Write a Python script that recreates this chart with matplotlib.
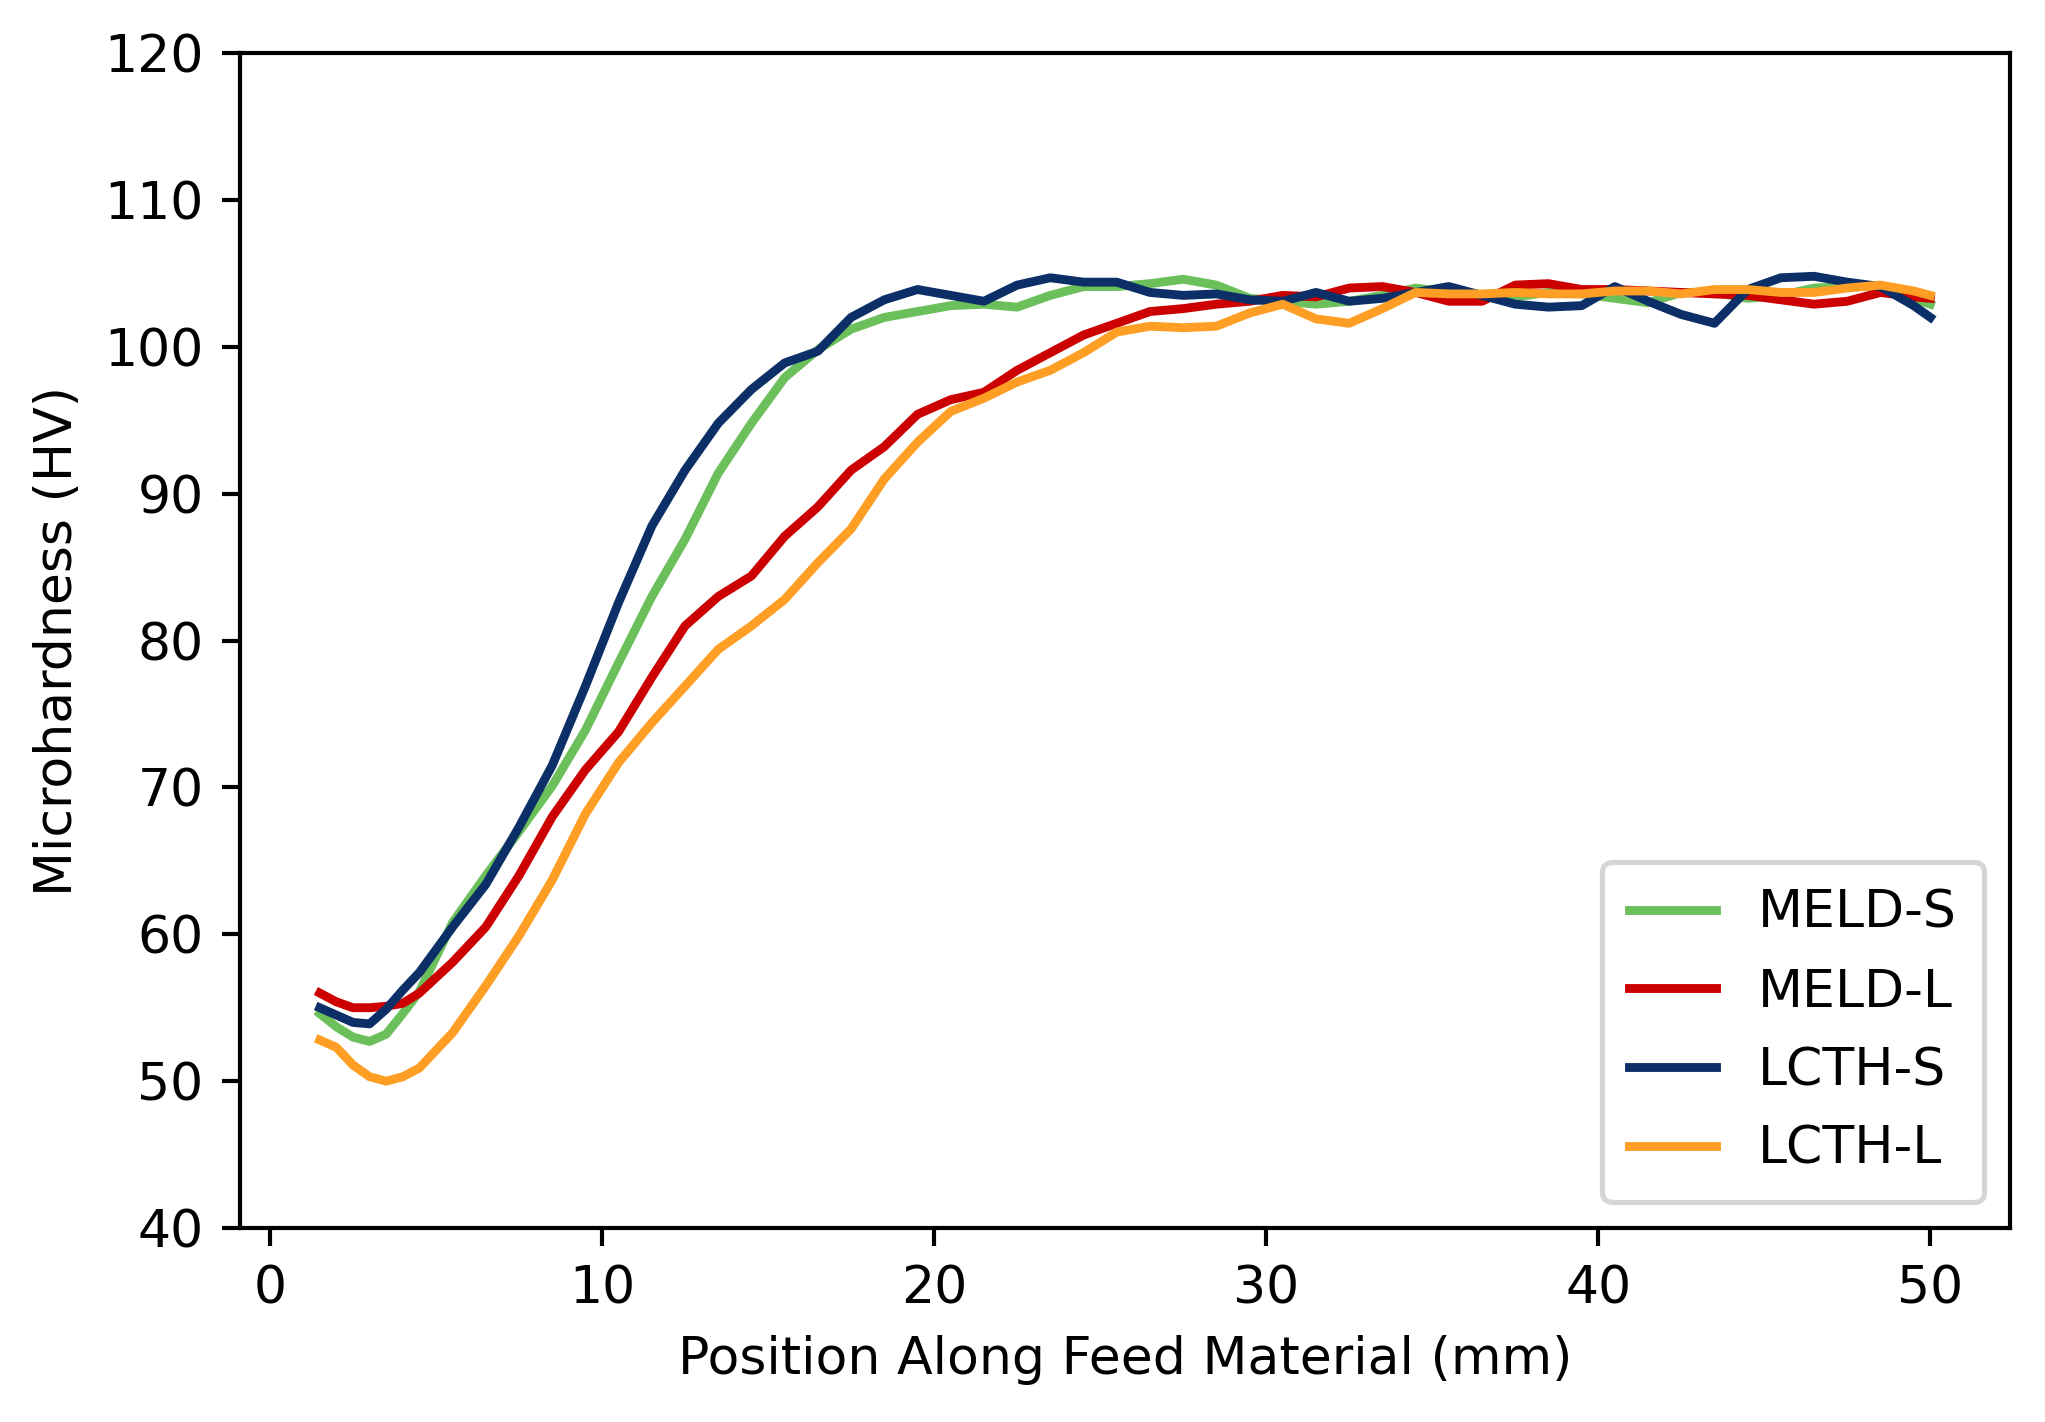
import matplotlib
matplotlib.use("Agg")
import matplotlib.pyplot as plt

# Posiciones (mm) a lo largo del material
x = [1.5, 2.0, 2.5, 3.0, 3.5, 4.0, 4.5, 5.5, 6.5, 7.5, 8.5, 9.5, 10.5, 11.5, 12.5,
     13.5, 14.5, 15.5, 16.5, 17.5, 18.5, 19.5, 20.5, 21.5, 22.5, 23.5, 24.5, 25.5,
     26.5, 27.5, 28.5, 29.5, 30.5, 31.5, 32.5, 33.5, 34.5, 35.5, 36.5, 37.5, 38.5,
     39.5, 40.5, 41.5, 42.5, 43.5, 44.5, 45.5, 46.5, 47.5, 48.5, 49.5, 50.0]

meld_s = [54.6, 53.7, 53.0, 52.7, 53.2, 54.6, 56.1, 60.8, 64.0, 67.0, 70.1, 73.9, 78.5,
          83.0, 86.9, 91.4, 94.8, 97.9, 99.8, 101.2, 102.0, 102.4, 102.8, 102.9, 102.7,
          103.5, 104.1, 104.1, 104.3, 104.6, 104.2, 103.3, 103.1, 102.9, 103.1, 103.5,
          104.0, 103.7, 103.5, 103.4, 103.7, 103.6, 103.3, 103.0, 103.7, 103.7, 103.3,
          103.5, 104.0, 104.1, 104.1, 103.3, 102.9]

meld_l = [56.0, 55.4, 55.0, 55.0, 55.1, 55.3, 56.0, 58.1, 60.5, 64.0, 68.0, 71.2, 73.8,
          77.5, 81.0, 83.0, 84.4, 87.1, 89.1, 91.6, 93.2, 95.4, 96.4, 96.9, 98.4, 99.6,
          100.8, 101.6, 102.4, 102.6, 102.9, 103.1, 103.5, 103.4, 104.0, 104.1, 103.7,
          103.1, 103.1, 104.2, 104.3, 103.9, 103.9, 103.8, 103.7, 103.6, 103.5, 103.2,
          102.9, 103.1, 103.7, 103.4, 103.3]

lcth_s = [55.0, 54.5, 54.0, 53.9, 54.9, 56.2, 57.4, 60.5, 63.4, 67.3, 71.5, 76.9, 82.6,
          87.8, 91.6, 94.8, 97.1, 98.9, 99.7, 102.0, 103.2, 103.9, 103.5, 103.1, 104.2,
          104.7, 104.4, 104.4, 103.7, 103.5, 103.6, 103.2, 103.1, 103.7, 103.1, 103.3,
          103.7, 104.1, 103.5, 102.9, 102.7, 102.8, 104.1, 103.1, 102.2, 101.6, 103.9,
          104.7, 104.8, 104.4, 104.1, 102.8, 102.0]

lcth_l = [52.8, 52.3, 51.1, 50.3, 50.0, 50.3, 50.9, 53.3, 56.5, 59.9, 63.7, 68.2, 71.7,
          74.4, 76.9, 79.4, 81.0, 82.8, 85.3, 87.6, 91.0, 93.5, 95.6, 96.5, 97.6, 98.4,
          99.6, 101.0, 101.4, 101.3, 101.4, 102.3, 102.9, 101.9, 101.6, 102.6, 103.7,
          103.6, 103.6, 103.7, 103.6, 103.6, 103.8, 103.8, 103.6, 103.9, 103.9, 103.7,
          103.7, 104.0, 104.2, 103.8, 103.5]

fig = plt.figure(figsize=(2045 / 375, 1422 / 375), dpi=375)
ax = fig.add_subplot(111)
fig.subplots_adjust(left=0.1174, right=0.9829, top=0.9627, bottom=0.1364)

lw = 1.7
ax.plot(x, meld_s, color='#6cc05c', lw=lw, label='MELD-S')
ax.plot(x, meld_l, color='#cc0000', lw=lw, label='MELD-L')
ax.plot(x, lcth_s, color='#0b2f66', lw=lw, label='LCTH-S')
ax.plot(x, lcth_l, color='#ff9e24', lw=lw, label='LCTH-L')

ax.set_xlim(-0.9, 52.4)
ax.set_ylim(40, 120)
ax.set_xticks(range(0, 51, 10))
ax.set_yticks(range(40, 121, 10))
ax.set_xlabel('Position Along Feed Material (mm)')
ax.set_ylabel('Microhardness (HV)')
ax.legend(loc='lower right', handlelength=1.67, labelspacing=0.55, borderpad=0.52)

fig.savefig('out.png', dpi=375)
